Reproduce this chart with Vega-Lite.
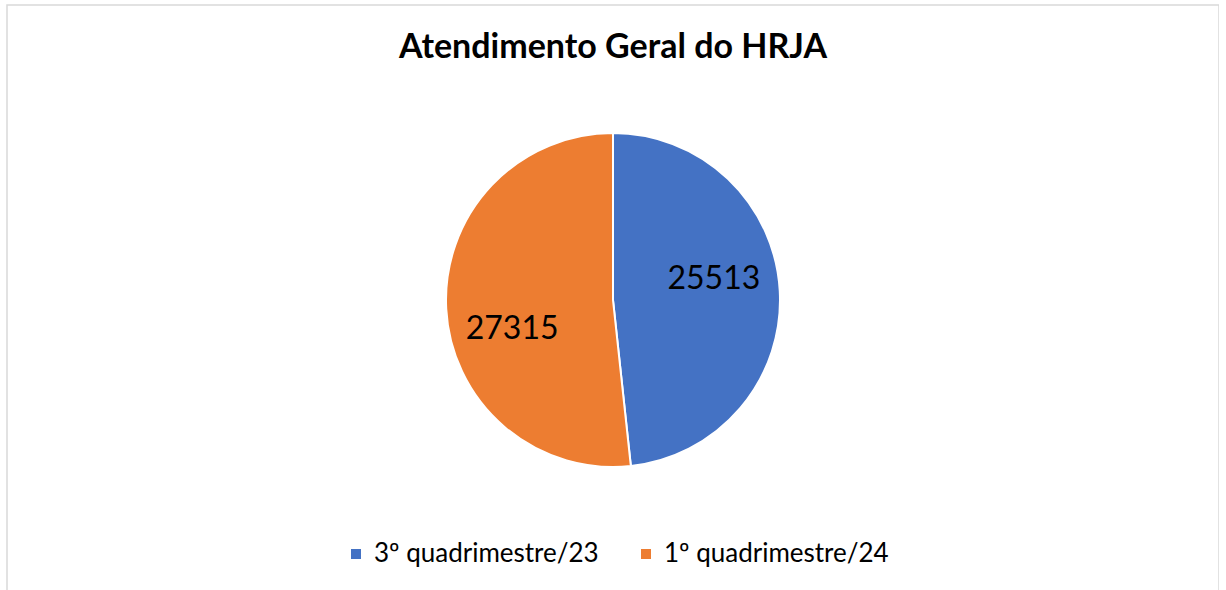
{
  "$schema": "https://vega.github.io/schema/vega-lite/v6.json",
  "width": 1212,
  "height": 590,
  "autosize": {"type": "none"},
  "padding": {"left": 7, "top": 5, "right": 0, "bottom": 0},
  "background": "white",
  "view": {"stroke": "#d9d9d9", "strokeWidth": 1.5},
  "title": {"text": "Atendimento Geral do HRJA", "font": "Lato", "fontSize": 34, "fontWeight": "bold", "color": "#000000", "anchor": "middle", "baseline": "alphabetic", "offset": -57, "dy": 30},
  "data": {"values": [
    {"quadrimestre": "3º quadrimestre/23", "atendimentos": 25513, "ordem": 1},
    {"quadrimestre": "1º quadrimestre/24", "atendimentos": 27315, "ordem": 2}
  ]},
  "encoding": {
    "theta": {"field": "atendimentos", "type": "quantitative", "stack": true},
    "order": {"field": "ordem", "type": "quantitative"}
  },
  "layer": [
    {
      "mark": {"type": "arc", "outerRadius": 167, "stroke": "white", "strokeWidth": 2},
      "encoding": {
        "color": {"field": "quadrimestre", "type": "nominal",
          "scale": {"domain": ["3º quadrimestre/23", "1º quadrimestre/24"], "range": ["#4472C4", "#ED7D31"]},
          "legend": {"orient": "none", "legendX": 336, "legendY": 536, "direction": "horizontal", "title": null, "symbolType": "square", "symbolSize": 100, "symbolStrokeWidth": 0, "labelFont": "Lato", "labelFontSize": 26, "labelLimit": 0, "labelColor": "#000000", "labelOffset": 5, "columnPadding": 34, "padding": 0}
        }
      }
    },
    {
      "mark": {"type": "text", "radius": 101, "font": "Lato", "fontSize": 32, "dy": -16, "color": "#000000", "baseline": "middle"},
      "encoding": {
        "text": {"condition": {"test": "datum.ordem == 1", "field": "atendimentos", "type": "quantitative", "format": "d"}, "value": ""}
      }
    },
    {
      "mark": {"type": "text", "radius": 101, "font": "Lato", "fontSize": 32, "dy": 24, "color": "#000000", "baseline": "middle"},
      "encoding": {
        "text": {"condition": {"test": "datum.ordem == 2", "field": "atendimentos", "type": "quantitative", "format": "d"}, "value": ""}
      }
    }
  ]
}
